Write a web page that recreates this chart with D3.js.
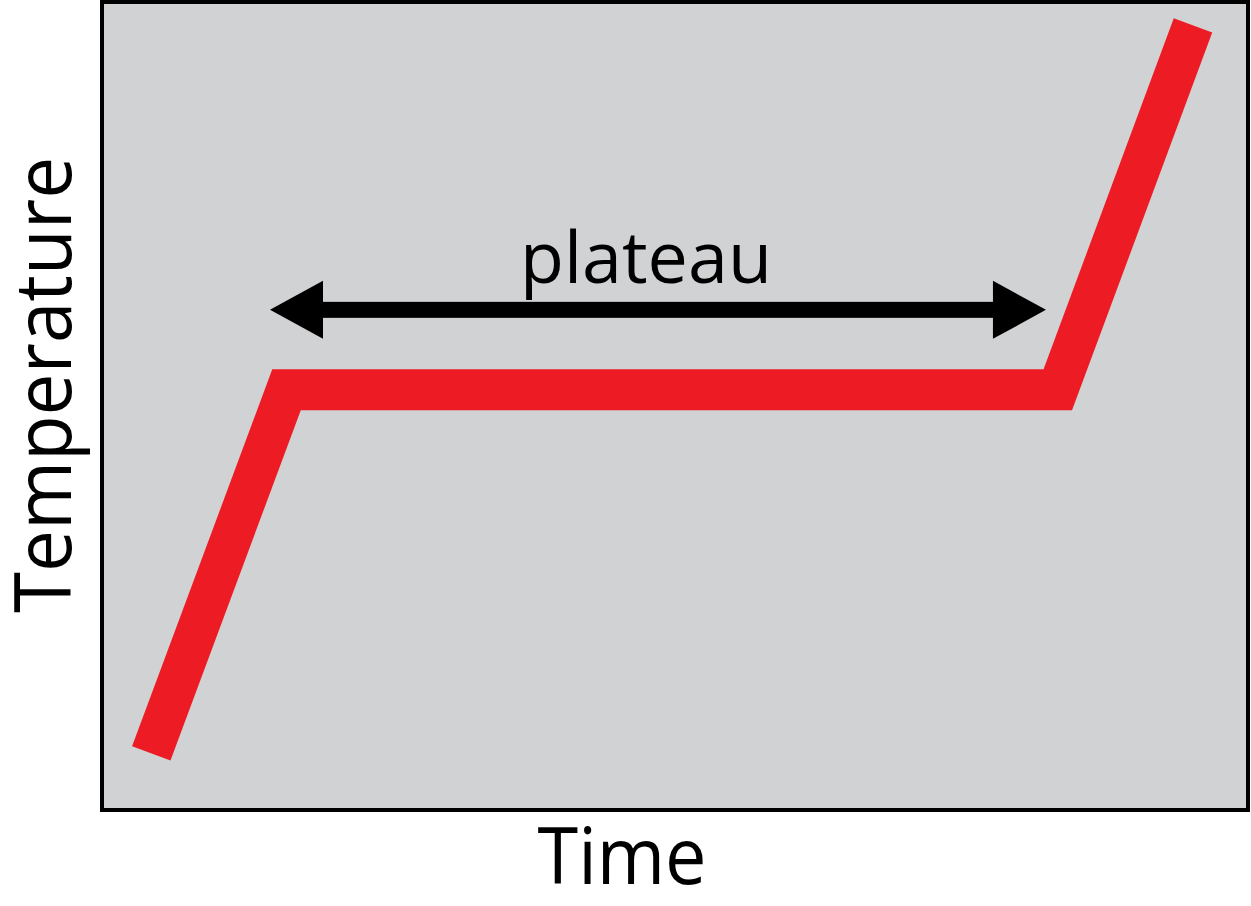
<!DOCTYPE html>
<html>
<head>
<meta charset="utf-8">
<script src="https://cdn.jsdelivr.net/npm/d3@7"></script>
<style>
  html, body { margin: 0; padding: 0; background: #ffffff; }
  svg { display: block; }
</style>
</head>
<body>
<div id="chart"></div>
<script>
// ---- data ----
const timeValues = [0.43, 1.61, 8.34, 9.52];
const tempValues = [0.70, 5.20, 5.20, 9.71];
const plateauRange = [1.466, 8.237];   // arrow tips, time units
const plateauArrowLevel = 6.19;        // arrow height, temperature units
const xLabel = "Time";
const yLabel = "Temperature";
const plateauLabel = "plateau";

// ---- layout ----
const W = 1251, H = 906;
const box = { left: 102, top: 2, right: 1248, bottom: 810 };

const svg = d3.select("#chart").append("svg")
  .attr("width", W).attr("height", H);

const x = d3.scaleLinear().domain([0, 10]).range([box.left, box.right]);
const y = d3.scaleLinear().domain([0, 10]).range([box.bottom, box.top]);

// plot background + frame
svg.append("rect")
  .attr("x", box.left).attr("y", box.top)
  .attr("width", box.right - box.left).attr("height", box.bottom - box.top)
  .attr("fill", "#d1d2d4")
  .attr("stroke", "#000").attr("stroke-width", 4);

// curve
const pts = timeValues.map((t, i) => [t, tempValues[i]]);
svg.append("path")
  .datum(pts)
  .attr("d", d3.line().x(d => x(d[0])).y(d => y(d[1])))
  .attr("fill", "none")
  .attr("stroke", "#ed1c24")
  .attr("stroke-width", 41)
  .attr("stroke-linejoin", "miter")
  .attr("stroke-miterlimit", 10)
  .attr("stroke-linecap", "butt");

// double arrow
const ax0 = x(plateauRange[0]), ax1 = x(plateauRange[1]), ay = y(plateauArrowLevel);
const headLen = 53, headHalf = 29, shaftHalf = 8;
svg.append("rect")
  .attr("x", ax0 + headLen - 2).attr("y", ay - shaftHalf)
  .attr("width", (ax1 - ax0) - 2 * headLen + 4).attr("height", 2 * shaftHalf)
  .attr("fill", "#000");
svg.append("path")
  .attr("d", `M${ax0},${ay} L${ax0 + headLen},${ay - headHalf} L${ax0 + headLen},${ay + headHalf} Z`)
  .attr("fill", "#000");
svg.append("path")
  .attr("d", `M${ax1},${ay} L${ax1 - headLen},${ay - headHalf} L${ax1 - headLen},${ay + headHalf} Z`)
  .attr("fill", "#000");

const font = "'Open Sans', 'Noto Sans', sans-serif";

svg.append("text")
  .attr("x", (ax0 + ax1) / 2 - 12).attr("y", 283)
  .attr("text-anchor", "middle")
  .attr("font-family", font).attr("font-size", 71)
  .attr("textLength", 252).attr("lengthAdjust", "spacingAndGlyphs")
  .attr("fill", "#000")
  .text(plateauLabel);

svg.append("text")
  .attr("x", 622).attr("y", 884)
  .attr("text-anchor", "middle")
  .attr("font-family", font).attr("font-size", 78)
  .attr("textLength", 169).attr("lengthAdjust", "spacingAndGlyphs")
  .attr("fill", "#000")
  .text(xLabel);

svg.append("text")
  .attr("transform", "translate(71,385) rotate(-90)")
  .attr("text-anchor", "middle")
  .attr("font-family", font).attr("font-size", 78)
  .attr("textLength", 456).attr("lengthAdjust", "spacingAndGlyphs")
  .attr("fill", "#000")
  .text(yLabel);
</script>
</body>
</html>
